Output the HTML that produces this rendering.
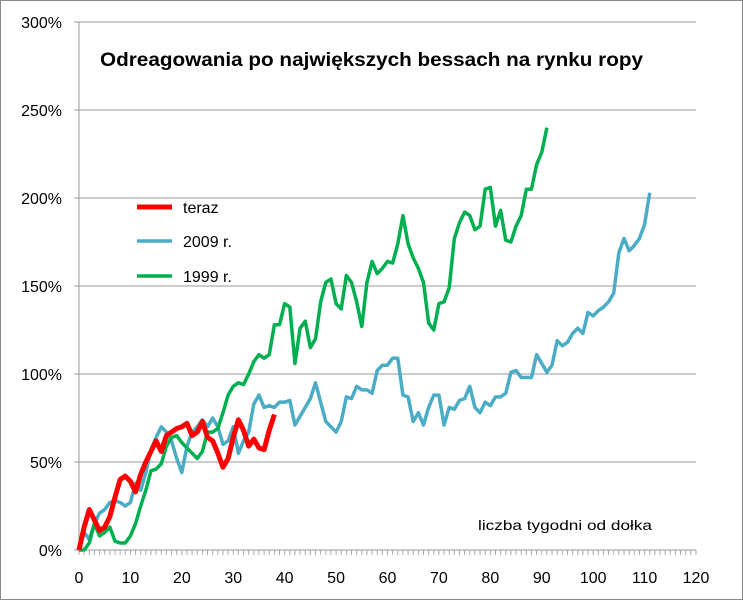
<!DOCTYPE html>
<html><head><meta charset="utf-8"><style>
html,body{margin:0;padding:0;background:#fff}
svg{display:block;font-family:"Liberation Sans",sans-serif}
</style></head><body>
<svg id="chart" width="743" height="600" viewBox="0 0 743 600">
<rect x="0.5" y="0.5" width="742" height="599" fill="#fff" stroke="#888"/>
<g id="grid"></g><g id="axes"></g><g id="series"></g>
<text x="100" y="66" font-size="19" font-weight="bold" fill="#000" textLength="543" lengthAdjust="spacingAndGlyphs">Odreagowania po największych bessach na rynku ropy</text>
<text x="478" y="530" font-size="14" fill="#000" textLength="174" lengthAdjust="spacingAndGlyphs">liczba tygodni od dołka</text>
<g>
<line x1="137" y1="207" x2="172" y2="207" stroke="#ff0000" stroke-width="5"/>
<text x="183" y="213" font-size="16">teraz</text>
<line x1="137" y1="241" x2="172" y2="241" stroke="#4bacc6" stroke-width="3.5"/>
<text x="183" y="247" font-size="16">2009 r.</text>
<line x1="137" y1="276" x2="172" y2="276" stroke="#00b050" stroke-width="3.5"/>
<text x="183" y="282" font-size="16">1999 r.</text>
</g>
</svg>
<script>
const yTicks=[0,50,100,150,200,250,300];
const xTicks=[0,10,20,30,40,50,60,70,80,90,100,110,120];
const teraz=[0,13,23,17,11,13,19,30,40,42,39,33,43,50,56,62,56,65,67,69,70,72,65,67,73,64,62,55,47,52,64,74,68,59,63,58,57,68,77];
const y2009=[0,10,6,15,21,23,27,28,27,25,27,38,34,44,57,64,70,67,62,52,44,59,67,70,74,70,75,70,60,62,70,55,62,67,83,88,81,82,81,84,84,85,71,76,81,86,95,84,73,70,67,73,87,86,93,91,91,89,102,105,105,109,109,88,87,73,78,71,81,88,88,71,81,80,85,86,93,81,78,84,82,87,87,89,101,102,98,98,98,111,106,101,105,119,116,118,123,126,123,135,133,136,138,141,146,169,177,170,173,177,185,203];
const y1999=[0,0,4,15,8,10,13,5,4,4,8,15,25,34,45,46,49,59,64,65,61,58,55,52,56,67,67,69,78,88,93,95,94,100,107,111,109,111,128,128,140,138,106,126,130,115,120,141,152,154,140,137,156,152,141,127,152,164,157,160,164,163,174,190,174,166,160,152,129,125,140,141,149,177,186,192,190,182,184,205,206,184,193,176,175,184,190,205,205,219,226,240];
const NS="http://www.w3.org/2000/svg";
const X0=79,X1=696,Y0=550,Y1=22;
const xs=v=>X0+(v/120)*(X1-X0);
const ys=v=>Y0-(v/300)*(Y0-Y1);
function mk(t,a,p){const e=document.createElementNS(NS,t);for(const k in a)e.setAttribute(k,a[k]);p.appendChild(e);return e;}
const grid=document.getElementById('grid'),axes=document.getElementById('axes'),ser=document.getElementById('series');
yTicks.forEach(v=>{
 if(v>0){const g=mk('line',{x1:X0,x2:X1,y1:ys(v),y2:ys(v),stroke:'#999','stroke-width':1},grid);
 
 }
 const tk=mk('line',{x1:X0-5,x2:X0,y1:ys(v),y2:ys(v),stroke:'#999'},axes);
 
 
 const t=mk('text',{x:62,y:ys(v)+6,'text-anchor':'end','font-size':16},axes);t.textContent=v+'%';
 
 
});
for(let i=0;i<=120;i++){const tk=mk('line',{x1:xs(i),x2:xs(i),y1:Y0,y2:Y0+5,stroke:'#aaa'},axes);
 
 }
xTicks.forEach(v=>{const t=mk('text',{x:xs(v),y:583,'text-anchor':'middle','font-size':16},axes);t.textContent=v;
 
 });
const ya=mk('line',{x1:X0,x2:X0,y1:Y1,y2:Y0,stroke:'#999'},axes);


const xa=mk('line',{x1:X0,x2:X1,y1:Y0,y2:Y0,stroke:'#999'},axes);


function line(d,c,w,n){const p=mk('polyline',{points:d.map((v,i)=>xs(i)+','+ys(v)).join(' '),fill:'none',stroke:c,'stroke-width':w,'stroke-linejoin':'round'},ser);
 
 }
line(y2009,'#4bacc6',3.5,'series-2009');
line(y1999,'#00b050',3.5,'series-1999');
line(teraz,'#ff0000',5,'series-teraz');
</script>
</body></html>
